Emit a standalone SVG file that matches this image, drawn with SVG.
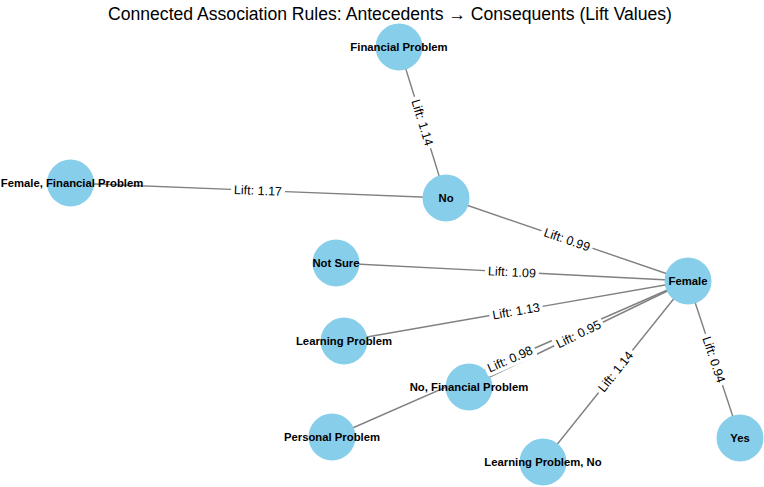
<svg xmlns="http://www.w3.org/2000/svg" width="764" height="487" viewBox="0 0 764 487">
<style>
.edge{stroke:#808080;stroke-width:1.4;fill:none}
.node circle{fill:#87CEEB}
.node text{font-family:"Liberation Sans",Arial,sans-serif;font-size:11.3px;font-weight:bold;fill:#000;text-anchor:middle}
.lbl rect{fill:#fff}
.lbl text{font-family:"Liberation Sans",Arial,sans-serif;font-size:12.5px;fill:#000;text-anchor:middle}
.title{font-family:"Liberation Sans",Arial,sans-serif;font-size:17.6px;fill:#000;text-anchor:middle}
</style>
<rect width="764" height="487" fill="#fff"/>
<text class="title" x="390" y="19.5">Connected Association Rules: Antecedents → Consequents (Lift Values)</text>
<g id="edges">
<line class="edge" x1="399" y1="47" x2="446" y2="198"/>
<line class="edge" x1="70" y1="183" x2="446" y2="198"/>
<line class="edge" x1="446" y1="198" x2="688" y2="281"/>
<line class="edge" x1="336" y1="263" x2="688" y2="281"/>
<line class="edge" x1="344" y1="341" x2="688" y2="281"/>
<line class="edge" x1="469" y1="387" x2="688" y2="281"/>
<line class="edge" x1="332" y1="437" x2="688" y2="281"/>
<line class="edge" x1="543" y1="462" x2="688" y2="281"/>
<line class="edge" x1="688" y1="281" x2="740" y2="438"/>
</g>
<g id="nodes">
<g id="n-financial-problem" class="node"><circle cx="399" cy="47" r="23.5"/><text x="399" y="51">Financial Problem</text></g>
<g id="n-no" class="node"><circle cx="446" cy="198" r="23.5"/><text x="446" y="202">No</text></g>
<g id="n-female-financial-problem" class="node"><circle cx="70.5" cy="183" r="23.5"/><text x="72" y="187">Female, Financial Problem</text></g>
<g id="n-female" class="node"><circle cx="688" cy="281" r="23.5"/><text x="688" y="285">Female</text></g>
<g id="n-not-sure" class="node"><circle cx="336" cy="263" r="23.5"/><text x="336" y="267">Not Sure</text></g>
<g id="n-learning-problem" class="node"><circle cx="344" cy="341" r="23.5"/><text x="344" y="345">Learning Problem</text></g>
<g id="n-no-financial-problem" class="node"><circle cx="469" cy="387" r="23.5"/><text x="469" y="391">No, Financial Problem</text></g>
<g id="n-personal-problem" class="node"><circle cx="332" cy="437" r="23.5"/><text x="332" y="441">Personal Problem</text></g>
<g id="n-learning-problem-no" class="node"><circle cx="543" cy="462" r="23.5"/><text x="543" y="466">Learning Problem, No</text></g>
<g id="n-yes" class="node"><circle cx="740" cy="438" r="23.5"/><text x="740" y="442">Yes</text></g>
</g>
<g id="edge-labels">
<g class="lbl" transform="translate(422.5,122.5) rotate(72.7)"><rect x="-27" y="-8" width="54" height="16" rx="3"/><text y="4.4">Lift: 1.14</text></g>
<g class="lbl" transform="translate(258,190.5) rotate(2.3)"><rect x="-27" y="-8" width="54" height="16" rx="3"/><text y="4.4">Lift: 1.17</text></g>
<g class="lbl" transform="translate(567,239.5) rotate(18.9)"><rect x="-27" y="-8" width="54" height="16" rx="3"/><text y="4.4">Lift: 0.99</text></g>
<g class="lbl" transform="translate(512,272) rotate(2.9)"><rect x="-27" y="-8" width="54" height="16" rx="3"/><text y="4.4">Lift: 1.09</text></g>
<g class="lbl" transform="translate(516,311) rotate(-9.9)"><rect x="-27" y="-8" width="54" height="16" rx="3"/><text y="4.4">Lift: 1.13</text></g>
<g class="lbl" transform="translate(578.5,334) rotate(-25.8)"><rect x="-27" y="-8" width="54" height="16" rx="3"/><text y="4.4">Lift: 0.95</text></g>
<g class="lbl" transform="translate(510,359) rotate(-23.7)"><rect x="-27" y="-8" width="54" height="16" rx="3"/><text y="4.4">Lift: 0.98</text></g>
<g class="lbl" transform="translate(615.5,371.5) rotate(-51.3)"><rect x="-27" y="-8" width="54" height="16" rx="3"/><text y="4.4">Lift: 1.14</text></g>
<g class="lbl" transform="translate(714,359.5) rotate(71.7)"><rect x="-27" y="-8" width="54" height="16" rx="3"/><text y="4.4">Lift: 0.94</text></g>
</g>
</svg>
